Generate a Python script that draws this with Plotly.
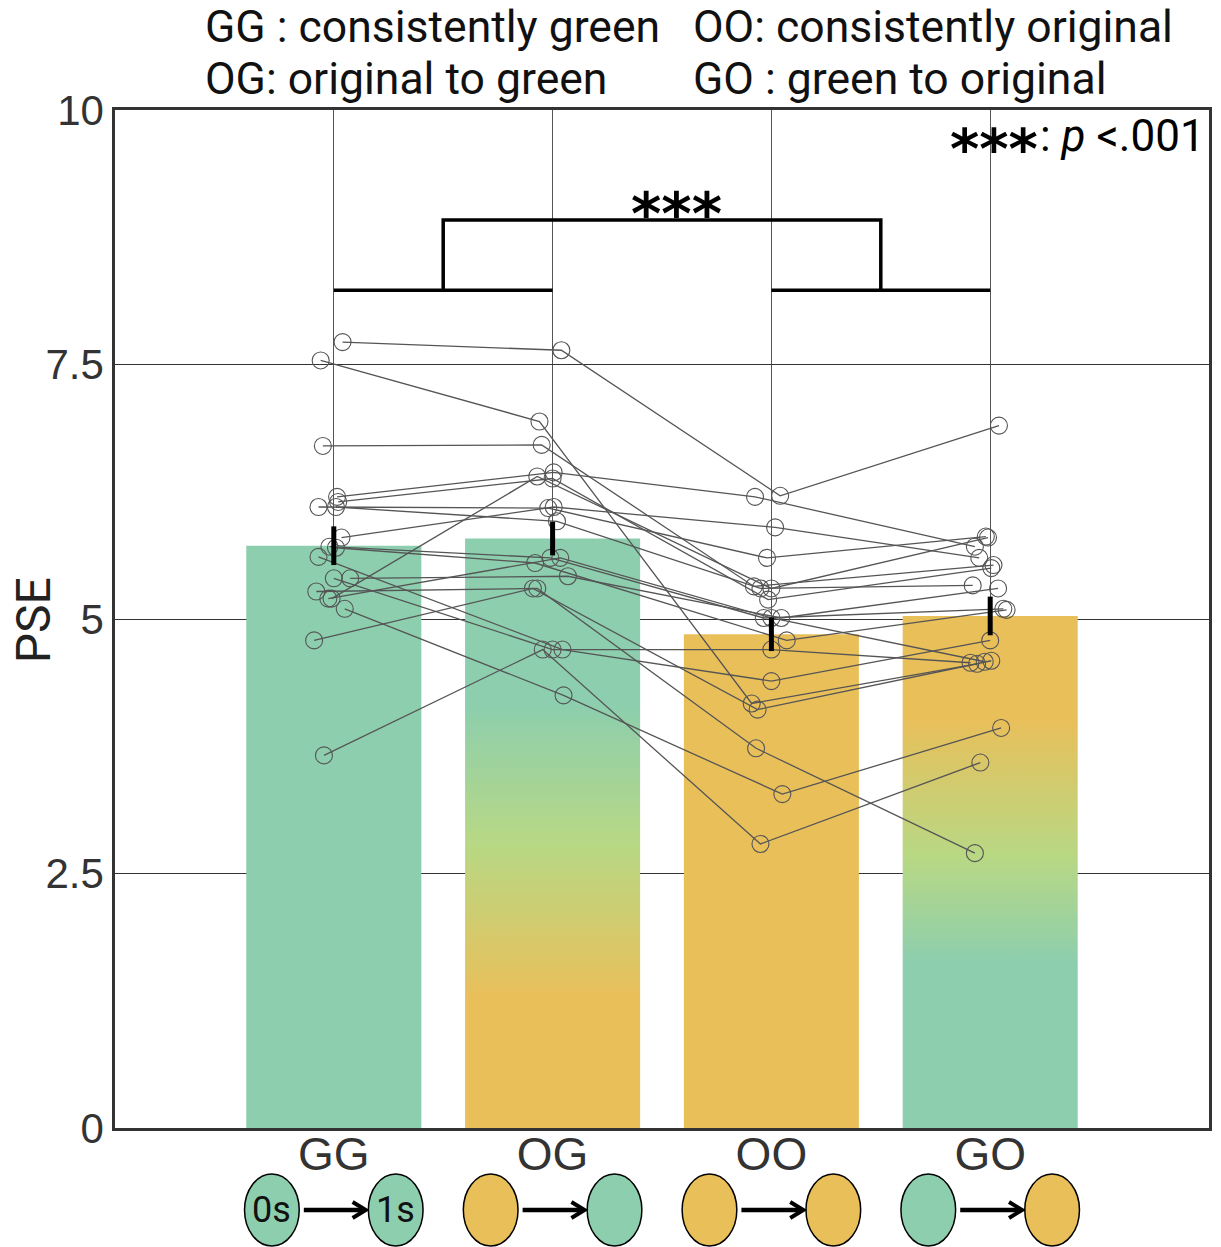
import plotly.graph_objects as go

# ---------------- data ----------------
categories = ["GG", "OG", "OO", "GO"]
bar_means = [5.72, 5.79, 4.85, 5.03]
bar_sem = [0.19, 0.165, 0.165, 0.19]

# individual participants (same order in every list)
gg_vals = [7.72, 7.54, 6.70, 6.20, 6.15, 6.10, 6.10, 5.80, 5.71, 5.70, 5.61, 5.40, 5.40, 5.27, 5.20, 5.20, 5.10, 4.79, 3.66]
og_vals = [7.64, 6.94, 6.71, 6.44, 6.38, 6.09, 5.96, 6.10, 5.60, 5.55, 4.70, 5.42, 4.70, 5.30, 5.60, 6.40, 4.25, 5.30, 4.70]
oo_vals = [6.21, 4.17, 5.32, 6.20, 5.19, 5.60, 5.30, 5.90, 5.01, 4.79, 4.39, 5.01, 4.70, 3.73, 5.01, 5.30, 3.28, 4.11, 2.79]
go_vals = [6.90, 4.56, 5.53, 5.71, 5.50, 5.81, 5.33, 5.60, 5.10, 5.09, 4.79, 5.30, 4.57, 2.70, 4.58, 5.80, 3.93, 4.59, 3.59]

# horizontal jitter of each participant's points (category units)
gg_jit = [0.04, -0.06, -0.05, 0.015, 0.02, -0.07, 0.01, 0.035, -0.02, 0.01, -0.07, 0.075, 0.0, -0.08, -0.025, -0.01, 0.05, -0.09, -0.045]
og_jit = [0.04, -0.06, -0.05, 0.005, 0.0, -0.02, 0.02, 0.005, -0.01, -0.08, 0.045, 0.07, 0.0, -0.07, 0.035, -0.07, 0.05, -0.09, -0.045]
oo_jit = [0.04, -0.09, -0.08, -0.075, -0.015, -0.02, -0.05, 0.017, -0.035, 0.07, 0.0, 0.045, 0.0, -0.07, 0.0, 0.0, 0.05, -0.063, -0.05]
go_jit = [0.04, -0.06, 0.015, -0.07, 0.005, -0.02, -0.08, -0.05, 0.06, 0.075, 0.0, 0.036, -0.09, -0.07, -0.025, -0.01, 0.05, 0.005, -0.045]

sig_label = "***"
bracket_low = 8.23
bracket_high = 8.92

legend_lines = [
    ("GG : consistently green", "OO: consistently original"),
    ("OG: original to green", "GO : green to original"),
]

# ---------------- styles ----------------
GREEN = "#8CCEAE"
ORANGE = "#E9BF5A"
YGREEN = "#B8D884"
PT = "#555555"
BAR_W = 0.8

W, H = 1221, 1247
ML, MR, MT, MB = 115, 9, 110, 119
XR = [-1, 4]

fig = go.Figure()

xs = list(range(len(categories)))

# solid bars
solid_colors = {0: GREEN, 2: ORANGE}
fig.add_trace(go.Bar(
    x=[xs[i] for i in solid_colors], y=[bar_means[i] for i in solid_colors],
    width=BAR_W, marker=dict(color=[solid_colors[i] for i in solid_colors], line=dict(width=0)),
    hoverinfo="skip", showlegend=False))

# gradient bars (OG: orange->green, GO: green->orange)
grad_scales = {
    1: [[0, ORANGE], [0.22, ORANGE], [0.48, YGREEN], [0.72, GREEN], [1, GREEN]],
    3: [[0, GREEN], [0.32, GREEN], [0.53, YGREEN], [0.80, ORANGE], [1, ORANGE]],
}
for i, cs in grad_scales.items():
    c, m = xs[i], bar_means[i]
    fig.add_trace(go.Scatter(
        x=[c - BAR_W / 2, c + BAR_W / 2, c + BAR_W / 2, c - BAR_W / 2, c - BAR_W / 2],
        y=[0, 0, m, m, 0], mode="lines", line=dict(width=0), fill="toself",
        fillgradient=dict(type="vertical", colorscale=cs),
        hoverinfo="skip", showlegend=False))

# participants
for k in range(len(gg_vals)):
    fig.add_trace(go.Scatter(
        x=[xs[0] + gg_jit[k], xs[1] + og_jit[k], xs[2] + oo_jit[k], xs[3] + go_jit[k]],
        y=[gg_vals[k], og_vals[k], oo_vals[k], go_vals[k]],
        mode="lines+markers",
        line=dict(color=PT, width=1.3),
        marker=dict(symbol="circle-open", size=17, color=PT, line=dict(width=1.1, color=PT)),
        hoverinfo="skip", showlegend=False))

# error bars
fig.add_trace(go.Scatter(
    x=xs, y=bar_means, mode="markers",
    marker=dict(size=1, color="rgba(0,0,0,0)"),
    error_y=dict(type="data", array=bar_sem, thickness=5, width=0, color="black"),
    hoverinfo="skip", showlegend=False))

# significance bracket
l0, l1 = (xs[0] + xs[1]) / 2, (xs[2] + xs[3]) / 2
fig.add_trace(go.Scatter(
    x=[xs[0], xs[1], None, l0, l0, l1, l1, None, xs[2], xs[3]],
    y=[bracket_low, bracket_low, None, bracket_low, bracket_high, bracket_high, bracket_low, None, bracket_low, bracket_low],
    mode="lines", line=dict(color="black", width=3.5),
    hoverinfo="skip", showlegend=False))

def px_to_paper_y(py):
    return (H - MB - py) / (H - MB - MT)

def px_to_paper_x(px):
    return (px - ML) / (W - ML - MR)

annotations = []
annotations.append(dict(x=(l0 + l1) / 2, y=bracket_high, xref="x", yref="y", text="<b>" + sig_label + "</b>",
                        showarrow=False, yanchor="middle", yshift=6, xshift=14,
                        font=dict(family="DejaVu Sans", size=58, color="black")))

# legend text at top
for r, (a, b) in enumerate(legend_lines):
    yy = px_to_paper_y(27 + 52 * r)
    annotations.append(dict(x=px_to_paper_x(203), y=yy, xref="paper", yref="paper", text=a,
                            showarrow=False, xanchor="left", yanchor="middle",
                            font=dict(family="Roboto", size=44.5, color="#111")))
    annotations.append(dict(x=px_to_paper_x(693), y=yy, xref="paper", yref="paper", text=b,
                            showarrow=False, xanchor="left", yanchor="middle",
                            font=dict(family="Roboto", size=44.5, color="#111")))

# p-value note
annotations.append(dict(x=px_to_paper_x(1043), y=px_to_paper_y(148), xref="paper", yref="paper",
                        text="<b>" + sig_label + "</b>", showarrow=False, xanchor="right", yanchor="middle",
                        font=dict(family="DejaVu Sans", size=56, color="black")))
annotations.append(dict(x=px_to_paper_x(1210), y=px_to_paper_y(136), xref="paper", yref="paper",
                        text=": <i>p</i> &lt;.001", showarrow=False, xanchor="right", yanchor="middle",
                        font=dict(family="Roboto", size=44, color="black")))

# y title
annotations.append(dict(x=px_to_paper_x(33), y=px_to_paper_y(620), xref="paper", yref="paper",
                        text="PSE", textangle=-90, showarrow=False, xanchor="center", yanchor="middle",
                        font=dict(family="Roboto", size=48, color="#222")))

# condition icons under the axis
shapes = []
cat_colors = {"G": GREEN, "O": ORANGE}
off, hw = 0.283, 0.125
yc, hh = px_to_paper_y(1210), 36 / (H - MB - MT)
for i, cat in enumerate(categories):
    c = xs[i]
    for j, side in enumerate([-1, 1]):
        cx = c + side * off
        shapes.append(dict(type="circle", xref="x", yref="paper",
                           x0=cx - hw, x1=cx + hw, y0=yc - hh, y1=yc + hh,
                           fillcolor=cat_colors[cat[j]], line=dict(color="black", width=1.5)))
    a0, a1 = c - 0.137, c + 0.146
    dy = 8 / (H - MB - MT)
    shapes.append(dict(type="path", xref="x", yref="paper",
                       path=f"M {a0},{yc} L {a1 - 0.01},{yc}",
                       line=dict(color="black", width=4.5)))
    shapes.append(dict(type="path", xref="x", yref="paper",
                       path=f"M {a1 - 0.06},{yc + dy} L {a1},{yc} L {a1 - 0.06},{yc - dy}",
                       line=dict(color="black", width=4)))
    if i == 0:
        for j, lab in enumerate(["0s", "1s"]):
            annotations.append(dict(x=c + (-1 if j == 0 else 1) * off, y=yc, xref="x", yref="paper",
                                    text=lab, showarrow=False, xanchor="center", yanchor="middle",
                                    font=dict(family="Roboto", size=36, color="#111")))

fig.update_layout(
    width=W, height=H,
    margin=dict(l=ML, r=MR, t=MT, b=MB),
    paper_bgcolor="white", plot_bgcolor="white",
    showlegend=False, bargap=0.2,
    annotations=annotations, shapes=shapes,
)
fig.update_xaxes(
    range=XR, tickmode="array", tickvals=xs, ticktext=categories,
    showgrid=True, gridcolor="#555", gridwidth=1,
    showline=True, linecolor="#333", linewidth=2.5, mirror=True,
    ticks="", zeroline=False, ticklabelstandoff=-16,
    tickfont=dict(family="Liberation Sans", size=46, color="#333"),
)
fig.update_yaxes(
    range=[0, 10], tickmode="array", tickvals=[0, 2.5, 5, 7.5, 10], ticktext=["0", "2.5", "5", "7.5", "10"],
    showgrid=True, gridcolor="#333", gridwidth=1,
    showline=True, linecolor="#333", linewidth=2.5, mirror=True,
    ticks="", zeroline=False, ticklabelstandoff=0,
    tickfont=dict(family="Liberation Sans", size=42, color="#333"),
)

fig.write_html("out.html")
